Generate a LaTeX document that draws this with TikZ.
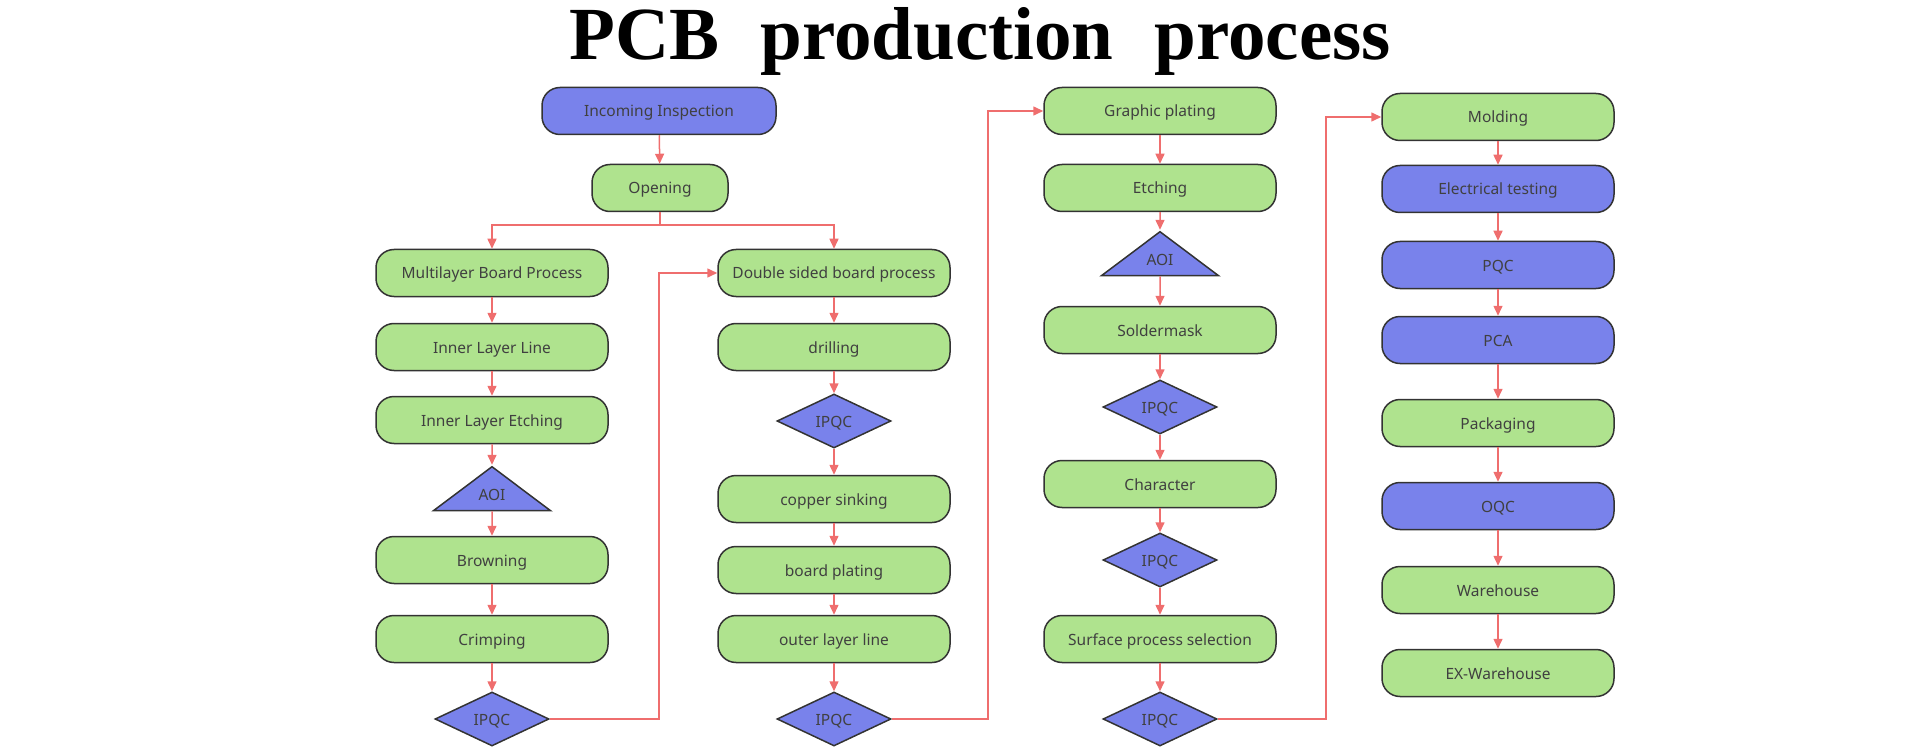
\documentclass[tikz,border=0pt]{standalone}
\usepackage{fontspec}
\setmainfont{Noto Sans}
\newfontfamily\titlefont[WordSpace=2.2]{Liberation Serif}
\usetikzlibrary{positioning,shapes.geometric,arrows.meta}
\definecolor{boxgreen}{RGB}{175,227,142}
\definecolor{boxblue}{RGB}{121,130,235}
\definecolor{linered}{RGB}{239,110,110}
\definecolor{edgegray}{RGB}{51,51,51}

\begin{document}
\begin{tikzpicture}[x=1pt,y=1pt,>={Triangle[length=10pt,width=9pt]},node distance=74pt,
    main node/.style={rectangle,rounded corners=18pt,draw=edgegray,line width=1.5pt,minimum width=232pt,minimum height=47pt,inner sep=0pt,text=black!75,text height=12pt,text depth=0pt,font=\fontsize{15.5}{18}\selectfont},
    green node/.style={main node,fill=boxgreen},
    blue node/.style={main node,fill=boxblue},
    check node/.style={diamond,draw=edgegray,line width=1.5pt,fill=boxblue,minimum width=114pt,minimum height=54pt,inner sep=0pt,text=black!75,text height=12pt,text depth=0pt,font=\fontsize{15.5}{18}\selectfont},
    aoi node/.style={isosceles triangle,isosceles triangle stretches,shape border rotate=90,draw=edgegray,line width=1.5pt,fill=boxblue,minimum width=117pt,minimum height=41pt,inner sep=0pt,text=black!75,font=\fontsize{15.5}{18}\selectfont},
    flow/.style={->,color=linered,line width=1.5pt}]
    \useasboundingbox (0,0) rectangle (1920,-754);

    \node (title) at (980,-60) [anchor=base] {\titlefont\bfseries\fontsize{75}{80}\selectfont PCB production process};

    % start
    \node[blue node] (1) at (659,-111) [minimum width=234pt] {Incoming Inspection};
    \node[green node] (2) at (660,-188) [minimum width=136pt] {Opening};

    % multilayer column
    \node[green node] (3) at (492,-273) {Multilayer Board Process};
    \node[green node] (4) [below of=3] {Inner Layer Line};
    \node[green node] (5) [node distance=73pt,below of=4] {Inner Layer Etching};
    \node[aoi node] (6) [node distance=75pt,below of=5] {AOI};
    \node[green node] (7) [node distance=65pt,below of=6] {Browning};
    \node[green node] (8) [node distance=79pt,below of=7] {Crimping};
    \node[check node] (9) [node distance=80pt,below of=8] {IPQC};

    % double sided column
    \node[green node] (10) at (834,-273) {Double sided board process};
    \node[green node] (11) [below of=10] {drilling};
    \node[check node] (12) [below of=11] {IPQC};
    \node[green node] (13) [node distance=78pt,below of=12] {copper sinking};
    \node[green node] (14) [node distance=71pt,below of=13] {board plating};
    \node[green node] (15) [node distance=69pt,below of=14] {outer layer line};
    \node[check node] (16) [node distance=80pt,below of=15] {IPQC};

    % outer layer column
    \node[green node] (17) at (1160,-111) {Graphic plating};
    \node[green node] (18) [node distance=77pt,below of=17] {Etching};
    \node[aoi node] (19) [node distance=72pt,below of=18] {AOI};
    \node[green node] (20) [node distance=70pt,below of=19] {Soldermask};
    \node[check node] (21) [node distance=77pt,below of=20] {IPQC};
    \node[green node] (22) [node distance=77pt,below of=21] {Character};
    \node[check node] (23) [node distance=76pt,below of=22] {IPQC};
    \node[green node] (24) [node distance=79pt,below of=23] {Surface process selection};
    \node[check node] (25) [node distance=80pt,below of=24] {IPQC};

    % final column
    \node[green node] (26) at (1498,-117) {Molding};
    \node[blue node] (27) [node distance=72pt,below of=26] {Electrical testing};
    \node[blue node] (28) [node distance=76pt,below of=27] {PQC};
    \node[blue node] (29) [node distance=75pt,below of=28] {PCA};
    \node[green node] (30) [node distance=83pt,below of=29] {Packaging};
    \node[blue node] (31) [node distance=83pt,below of=30] {OQC};
    \node[green node] (32) [node distance=84pt,below of=31] {Warehouse};
    \node[green node] (33) [node distance=83pt,below of=32] {EX-Warehouse};

    \path[every edge/.style={draw,flow}]
        (1) edge (2)
        (3) edge (4)
        (4) edge (5)
        (5) edge (6)
        (6) edge (7)
        (7) edge (8)
        (8) edge (9)
        (10) edge (11)
        (11) edge (12)
        (12) edge (13)
        (13) edge (14)
        (14) edge (15)
        (15) edge (16)
        (17) edge (18)
        (18) edge (19)
        (19) edge (20)
        (20) edge (21)
        (21) edge (22)
        (22) edge (23)
        (23) edge (24)
        (24) edge (25)
        (26) edge (27)
        (27) edge (28)
        (28) edge (29)
        (29) edge (30)
        (30) edge (31)
        (31) edge (32)
        (32) edge (33)
        ;

    \draw[flow] (2.south) -- ++(0,-13) -| (3);
    \draw[flow] (2.south) -- ++(0,-13) -| (10);
    \draw[flow] (9.east) -- ++(109,0) |- (10);
    \draw[flow] (16.east) -- ++(96,0) |- (17);
    \draw[flow] (25.east) -- ++(108,0) |- (26);
\end{tikzpicture}
\end{document}
